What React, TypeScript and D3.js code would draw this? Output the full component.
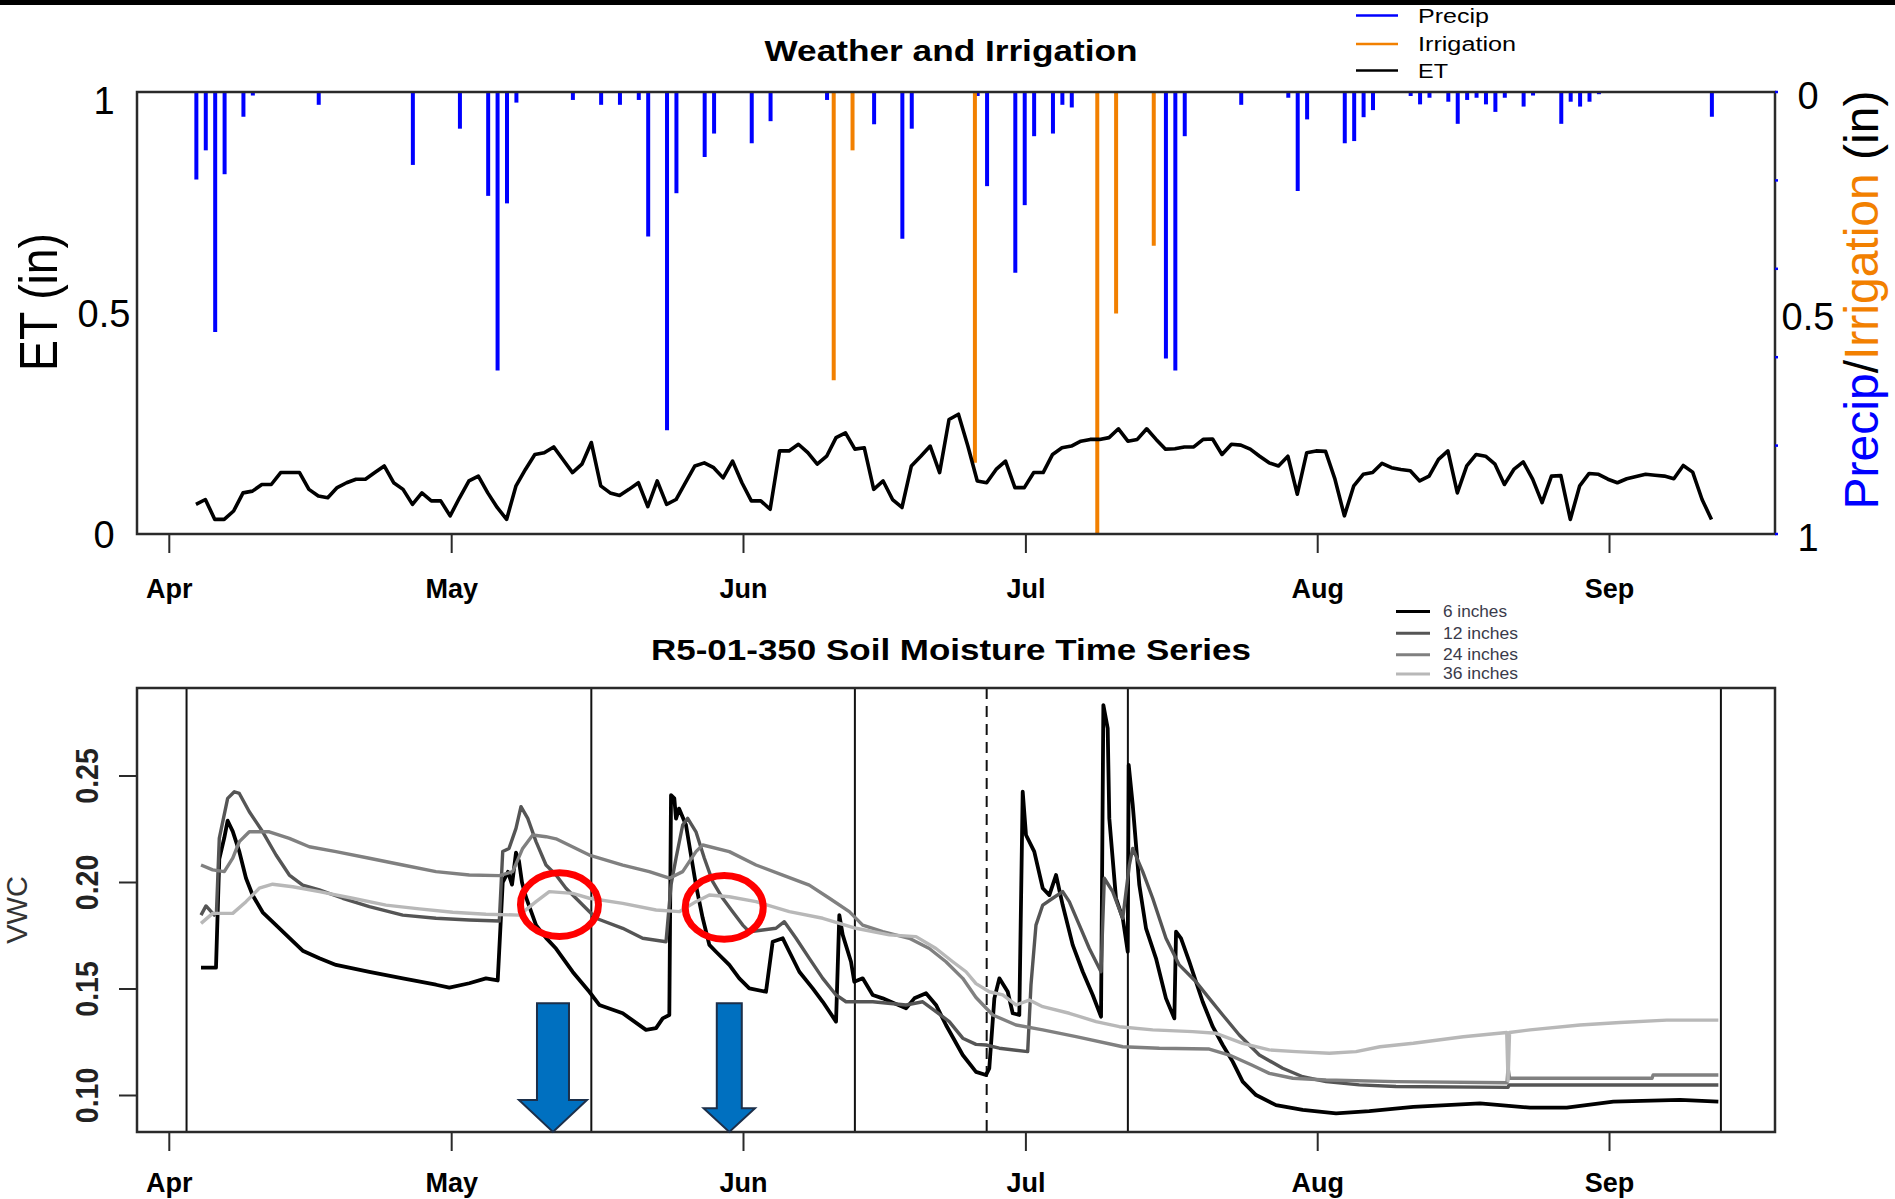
import React from "react";
import * as d3 from "d3";

// ---------------- DATA ----------------
const MONTHS = ["2015-04-01", "2015-05-01", "2015-06-01", "2015-07-01", "2015-08-01", "2015-09-01"];
const MONTH_LABELS = ["Apr", "May", "Jun", "Jul", "Aug", "Sep"];
const ET_TICKS = [0, 0.5, 1];
const PRECIP_TICKS = [0, 0.5, 1];
const PRECIP_MINOR_TICKS = [0, 0.2, 0.4, 0.6, 0.8, 1];
const VWC_TICKS = [0.1, 0.15, 0.2, 0.25];

// daily ET (in), starting 2015-04-03
const ET_START = "2015-04-03";
const ET_IN = [
  0.067, 0.078, 0.033, 0.033, 0.052, 0.093, 0.097, 0.112, 0.112, 0.139,
  0.139, 0.139, 0.101, 0.086, 0.082, 0.105, 0.116, 0.124, 0.124, 0.139,
  0.154, 0.116, 0.101, 0.067, 0.093, 0.075, 0.075, 0.041, 0.082, 0.12,
  0.131, 0.093, 0.06, 0.033, 0.109, 0.146, 0.18, 0.184, 0.197, 0.168,
  0.139, 0.158, 0.207, 0.109, 0.093, 0.087, 0.101, 0.116, 0.062, 0.12,
  0.067, 0.078, 0.116, 0.154, 0.161, 0.15, 0.127, 0.165, 0.116, 0.075,
  0.075, 0.056, 0.188, 0.188, 0.203, 0.184, 0.158, 0.176, 0.218, 0.229,
  0.192, 0.195, 0.101, 0.12, 0.078, 0.06, 0.154, 0.176, 0.199, 0.139,
  0.259, 0.271, 0.199, 0.12, 0.116, 0.146, 0.165, 0.105, 0.105, 0.139,
  0.139, 0.18, 0.195, 0.199, 0.21, 0.214, 0.214, 0.218, 0.238, 0.21,
  0.214, 0.238, 0.214, 0.192, 0.193, 0.197, 0.197, 0.214, 0.215, 0.18,
  0.203, 0.201, 0.192, 0.176, 0.161, 0.154, 0.176, 0.09, 0.184, 0.188,
  0.187, 0.124, 0.041, 0.109, 0.135, 0.139, 0.16, 0.15, 0.146, 0.143,
  0.12, 0.131, 0.169, 0.188, 0.093, 0.154, 0.18, 0.176, 0.158, 0.112,
  0.146, 0.163, 0.124, 0.071, 0.131, 0.132, 0.033, 0.109, 0.137, 0.135,
  0.124, 0.116, 0.125, 0.13, 0.135, 0.133, 0.131, 0.125, 0.155, 0.14,
  0.078, 0.033,
];

const PRECIP_IN: [string, number][] = [
  ["2015-04-03", 0.198], ["2015-04-04", 0.132], ["2015-04-05", 0.543], ["2015-04-06", 0.186],
  ["2015-04-08", 0.056], ["2015-04-09", 0.008], ["2015-04-16", 0.029], ["2015-04-26", 0.165],
  ["2015-05-01", 0.083], ["2015-05-04", 0.235], ["2015-05-05", 0.63], ["2015-05-06", 0.252],
  ["2015-05-07", 0.024], ["2015-05-13", 0.018], ["2015-05-16", 0.029], ["2015-05-18", 0.029],
  ["2015-05-20", 0.018], ["2015-05-21", 0.327], ["2015-05-23", 0.765], ["2015-05-24", 0.229],
  ["2015-05-27", 0.147], ["2015-05-28", 0.094], ["2015-06-01", 0.116], ["2015-06-03", 0.066],
  ["2015-06-09", 0.018], ["2015-06-14", 0.073], ["2015-06-17", 0.332], ["2015-06-18", 0.083],
  ["2015-06-25", 0.009], ["2015-06-26", 0.213], ["2015-06-29", 0.409], ["2015-06-30", 0.256],
  ["2015-07-01", 0.1], ["2015-07-03", 0.094], ["2015-07-04", 0.029], ["2015-07-05", 0.035],
  ["2015-07-15", 0.603], ["2015-07-16", 0.63], ["2015-07-17", 0.1], ["2015-07-23", 0.029],
  ["2015-07-28", 0.013], ["2015-07-29", 0.224], ["2015-07-30", 0.062], ["2015-08-03", 0.116],
  ["2015-08-04", 0.111], ["2015-08-05", 0.057], ["2015-08-06", 0.041], ["2015-08-10", 0.009],
  ["2015-08-11", 0.028], ["2015-08-12", 0.013], ["2015-08-14", 0.022], ["2015-08-15", 0.072],
  ["2015-08-16", 0.018], ["2015-08-17", 0.013], ["2015-08-18", 0.028], ["2015-08-19", 0.045],
  ["2015-08-20", 0.013], ["2015-08-22", 0.033], ["2015-08-23", 0.008], ["2015-08-26", 0.072],
  ["2015-08-27", 0.022], ["2015-08-28", 0.033], ["2015-08-29", 0.022], ["2015-08-30", 0.005],
  ["2015-09-11", 0.056],
];

const IRRIGATION_IN: [string, number][] = [
  ["2015-06-10", 0.652], ["2015-06-12", 0.132], ["2015-06-25", 0.839],
  ["2015-07-08", 1.05], ["2015-07-10", 0.501], ["2015-07-14", 0.348],
];

// soil moisture: [days since Apr 1, VWC]
const VWC_6IN: [number, number][] = [
  [3.37, 0.16], [4.96, 0.16], [5.31, 0.211], [5.84, 0.221], [6.2, 0.229], [6.74, 0.224], [7.44, 0.2145],
  [8.15, 0.202], [8.86, 0.194], [9.92, 0.186], [11.34, 0.18], [12.75, 0.174], [14.17, 0.168],
  [15.94, 0.1644], [17.71, 0.1613], [21.25, 0.158], [24.8, 0.155], [28.33, 0.152], [29.75, 0.1506],
  [31.87, 0.1527], [33.64, 0.155], [34.89, 0.154], [35.42, 0.2], [35.98, 0.205], [36.41, 0.199],
  [36.83, 0.214], [37.15, 0.21], [37.47, 0.2], [37.9, 0.193], [38.96, 0.18], [40.02, 0.174],
  [41.08, 0.169], [42.86, 0.158], [44.62, 0.1487], [45.68, 0.1425], [48.17, 0.1386], [50.64, 0.1308],
  [51.71, 0.1316], [52.42, 0.1362], [53.12, 0.1378], [53.3, 0.241], [53.65, 0.2395], [53.83, 0.23],
  [54.15, 0.2347], [54.89, 0.227], [55.24, 0.2176], [55.95, 0.1988], [56.67, 0.1832], [57.37, 0.1707],
  [58.08, 0.1675], [59.49, 0.1613], [60.55, 0.155], [61.62, 0.1503], [63.39, 0.1487], [64.1, 0.1722],
  [65.17, 0.1738], [65.87, 0.1675], [66.93, 0.1581], [68.35, 0.1503], [69.42, 0.144], [70.83, 0.1347],
  [71.18, 0.1847], [71.54, 0.1754], [72.42, 0.1628], [72.77, 0.1534], [73.66, 0.155], [74.73, 0.1472],
  [75.79, 0.1456], [78.27, 0.1409], [79.15, 0.1456], [80.39, 0.148], [81.45, 0.1425], [82.51, 0.1331],
  [84.29, 0.119], [85.7, 0.1111], [86.76, 0.1096], [87.11, 0.1127], [87.65, 0.1456], [88.18, 0.155],
  [89.07, 0.1487], [89.6, 0.1386], [90.3, 0.1378], [90.66, 0.2426], [91.01, 0.2223], [91.89, 0.2145],
  [92.79, 0.1973], [93.49, 0.1941], [94.2, 0.2035], [94.91, 0.1894], [95.97, 0.1707], [97.04, 0.1581],
  [98.1, 0.1472], [98.98, 0.137], [99.23, 0.2833], [99.69, 0.2724], [99.86, 0.2301], [100.57, 0.1926],
  [101.29, 0.1832], [101.82, 0.1675], [101.92, 0.2552], [102.35, 0.2364], [103.05, 0.1988],
  [103.76, 0.1785], [104.82, 0.1644], [105.88, 0.1456], [106.77, 0.1362], [106.95, 0.1769],
  [107.48, 0.1738], [108.36, 0.1628], [109.07, 0.1534], [109.78, 0.144], [110.85, 0.1323],
  [111.91, 0.1237], [112.97, 0.1159], [114.03, 0.1065], [115.45, 0.1002], [117.57, 0.0955],
  [120.41, 0.0932], [123.95, 0.0916], [127.48, 0.0927], [132.16, 0.0947], [139.24, 0.0963],
  [144.56, 0.0943], [148.46, 0.0943], [153.41, 0.0971], [160.49, 0.0979], [164.56, 0.0971],
];

const VWC_12IN: [number, number][] = [
  [3.37, 0.1847], [3.9, 0.189], [4.78, 0.1847], [5.01, 0.186], [5.31, 0.2207], [6.2, 0.2395],
  [6.91, 0.2426], [7.44, 0.2418], [8.5, 0.2332], [9.92, 0.2238], [11.34, 0.2129], [12.75, 0.2035],
  [14.17, 0.1988], [15.94, 0.1965], [18.42, 0.1926], [21.25, 0.1887], [24.8, 0.1847], [28.33, 0.1832],
  [31.87, 0.1824], [35.06, 0.1819], [35.42, 0.2145], [36.09, 0.216], [36.83, 0.2254], [37.36, 0.2356],
  [38.08, 0.2301], [38.96, 0.2192], [40.02, 0.2082], [41.08, 0.2035], [42.14, 0.1973], [43.92, 0.1894],
  [45.33, 0.1832], [48.17, 0.1785], [50.29, 0.1738], [52.77, 0.1722], [53.3, 0.1988], [53.83, 0.2114],
  [54.54, 0.227], [55.07, 0.2301], [55.95, 0.2238], [56.84, 0.2114], [57.73, 0.2004], [58.79, 0.1926],
  [59.85, 0.1863], [60.92, 0.18], [61.62, 0.1769], [63.04, 0.1777], [64.45, 0.1785], [65.34, 0.1816],
  [66.58, 0.1738], [67.99, 0.1644], [69.42, 0.155], [70.83, 0.1472], [71.89, 0.144], [74.73, 0.144],
  [78.27, 0.1425], [80.04, 0.144], [81.45, 0.1394], [82.86, 0.1347], [84.29, 0.1269], [85.7, 0.124],
  [86.76, 0.1237], [88.18, 0.1222], [91.19, 0.1206], [91.54, 0.1519], [92.07, 0.18], [92.79, 0.1894],
  [93.85, 0.1926], [94.91, 0.1957], [95.61, 0.191], [96.68, 0.18], [97.74, 0.169], [98.98, 0.1581],
  [99.33, 0.202], [100.22, 0.1957], [101.29, 0.1832], [101.99, 0.2082], [102.35, 0.216],
  [103.41, 0.2051], [104.47, 0.1926], [105.88, 0.1738], [107.29, 0.1613], [109.07, 0.1534],
  [110.48, 0.1456], [111.91, 0.1378], [113.67, 0.1284], [115.8, 0.119], [118.28, 0.1128],
  [120.41, 0.1088], [122.89, 0.1065], [126.42, 0.105], [130.32, 0.1042], [142.22, 0.1038],
  [142.32, 0.1049], [164.56, 0.1049],
];

const VWC_24IN: [number, number][] = [
  [3.37, 0.2082], [4.61, 0.2059], [5.84, 0.2051], [6.74, 0.2114], [7.44, 0.2192], [8.5, 0.2238],
  [10.62, 0.2238], [12.75, 0.2207], [14.87, 0.2168], [17.71, 0.2145], [21.25, 0.2114], [24.8, 0.2082],
  [28.33, 0.2051], [31.87, 0.2035], [35.06, 0.2032], [36.48, 0.2051], [37.54, 0.216], [38.61, 0.2223],
  [40.02, 0.2215], [41.08, 0.2205], [44.62, 0.2129], [48.17, 0.2082], [50.99, 0.2051], [53.12, 0.202],
  [54.54, 0.2051], [55.95, 0.2145], [56.67, 0.2176], [59.49, 0.2145], [62.33, 0.2082], [65.17, 0.2035],
  [67.99, 0.1988], [70.12, 0.1926], [72.24, 0.1863], [73.66, 0.18], [75.79, 0.1769], [78.61, 0.1738],
  [80.74, 0.169], [82.51, 0.1628], [84.29, 0.155], [85.7, 0.146], [87.48, 0.1378], [89.95, 0.1331],
  [92.79, 0.1308], [96.33, 0.1276], [101.29, 0.1229], [105.17, 0.1222], [110.48, 0.1218],
  [112.61, 0.119], [114.99, 0.1143], [116.86, 0.1104], [119.35, 0.1081], [122.89, 0.1073],
  [130.32, 0.1065], [142.11, 0.106], [142.22, 0.113], [142.38, 0.1081], [157.52, 0.1081],
  [157.63, 0.1096], [164.56, 0.1096],
];

const VWC_36IN: [number, number][] = [
  [3.37, 0.1808], [4.61, 0.1855], [6.74, 0.1855], [8.15, 0.191], [9.56, 0.1973], [10.98, 0.1992],
  [13.11, 0.198], [15.94, 0.1957], [19.48, 0.1926], [23.02, 0.1894], [26.56, 0.1876], [30.11, 0.186],
  [33.64, 0.1851], [37.18, 0.1847], [38.96, 0.191], [40.37, 0.1957], [42.86, 0.1949], [44.62, 0.1926],
  [48.17, 0.1902], [51.71, 0.1871], [54.18, 0.1863], [55.95, 0.191], [57.37, 0.1941], [59.49, 0.1933],
  [62.33, 0.191], [65.87, 0.1863], [69.42, 0.1832], [72.95, 0.1785], [76.49, 0.1754], [79.33, 0.1746],
  [81.45, 0.169], [83.23, 0.1628], [84.64, 0.1581], [85.7, 0.1525], [87.11, 0.1487], [88.54, 0.1472],
  [89.95, 0.1425], [91.36, 0.1448], [92.79, 0.1417], [95.61, 0.1386], [98.45, 0.1347], [100.93, 0.1323],
  [104.47, 0.1308], [108.72, 0.13], [111.2, 0.1292], [114.03, 0.1245], [116.86, 0.1214], [119.7, 0.1206],
  [123.23, 0.1198], [126.07, 0.1206], [128.62, 0.1229], [132.16, 0.1245], [137.47, 0.1276],
  [142.08, 0.1296], [142.22, 0.107], [142.38, 0.1296], [144.56, 0.1308], [149.87, 0.1331],
  [154.12, 0.1343], [159.08, 0.1354], [164.56, 0.1354],
];

const SOIL_SERIES = [
  { label: "6 inches", data: VWC_6IN, color: "#000000" },
  { label: "12 inches", data: VWC_12IN, color: "#555555" },
  { label: "24 inches", data: VWC_24IN, color: "#808080" },
  { label: "36 inches", data: VWC_36IN, color: "#b8b8b8" },
];

const SOLID_EVENT_DATES = ["2015-04-02", "2015-05-15", "2015-06-12", "2015-07-11", "2015-09-12"];
const DASHED_EVENT_DATES = ["2015-06-26"];

// annotations in data space: [days since Apr 1, VWC]
const ARROWS = [
  { day: 40.76, top: 0.1433, headBase: 0.0979, shaftHalf: 16, headHalf: 34 },
  { day: 59.49, top: 0.1433, headBase: 0.094, shaftHalf: 12.5, headHalf: 25.7 },
];
const CIRCLES = [
  { day: 41.45, vwc: 0.1896 },
  { day: 58.95, vwc: 0.1883 },
];

// ---------------- HELPERS ----------------
const FONT = "'Liberation Sans', Arial, Helvetica, sans-serif";
const DAY_MS = 864e5;
const SEASON_START = Date.UTC(2015, 3, 1);
const parse = d3.utcParse("%Y-%m-%d");
const dayToDate = (t: number) => new Date(SEASON_START + t * DAY_MS);
const obs = (s: string, hour: number) => d3.utcHour.offset(parse(s) as Date, hour);
const OBS_HOUR = 20;
const PRECIP_HOUR = 21;
const IRR_HOUR = 14;

export default function App() {
  const W = 1895;
  const H = 1199;
  const L = 137;
  const R = 1775;
  const T1 = 92, B1 = 534;
  const T2 = 688, B2 = 1132;

  const x = d3.scaleUtc().domain([dayToDate(-3.431), dayToDate(170.58)]).range([L, R]);
  const yET = d3.scaleLinear().domain([0, 1]).range([B1, T1]);
  const yP = d3.scaleLinear().domain([0, 1]).range([T1, B1]);
  const yV = d3.scaleLinear().domain([0.08286, 0.29131]).range([B2, T2]);

  const etStart = parse(ET_START) as Date;
  const etLine = d3
    .line<number>()
    .x((_, i) => x(d3.utcHour.offset(d3.utcDay.offset(etStart, i), OBS_HOUR)))
    .y((d) => yET(d));

  const soilLine = d3
    .line<[number, number]>()
    .x((d) => x(dayToDate(d[0])))
    .y((d) => yV(d[1]));

  const blue = "#0000ff";
  const orange = "#f28000";
  const frame = "#2a2a2a";

  return (
    <svg
      width={W}
      height={H}
      viewBox={`0 0 ${W} ${H}`}
      style={{ position: "absolute", left: 0, top: 0, display: "block", background: "#fff" }}
      fontFamily={FONT}
    >
      <defs>
        <clipPath id="clipTop">
          <rect x={L} y={T1} width={R - L} height={B1 - T1} />
        </clipPath>
        <clipPath id="clipBot">
          <rect x={L} y={T2} width={R - L} height={B2 - T2} />
        </clipPath>
      </defs>
      <rect x={0} y={0} width={W} height={H} fill="#fff" />
      <rect x={0} y={0} width={W} height={5} fill="#000" />

      {/* ---------- TOP PANEL ---------- */}
      <text x={951} y={61} textAnchor="middle" fontWeight="bold" fontSize={29} textLength={373} lengthAdjust="spacingAndGlyphs">
        Weather and Irrigation
      </text>

      {/* legend */}
      {[
        { label: "Precip", color: blue, y: 15.5, len: 71 },
        { label: "Irrigation", color: orange, y: 44, len: 98 },
        { label: "ET", color: "#000", y: 70.5, len: 30 },
      ].map((d) => (
        <g key={d.label}>
          <line x1={1356} x2={1398} y1={d.y} y2={d.y} stroke={d.color} strokeWidth={2.5} />
          <text x={1418} y={d.y + 2} dominantBaseline="middle" fontSize={20} textLength={d.len} lengthAdjust="spacingAndGlyphs">
            {d.label}
          </text>
        </g>
      ))}

      <g clipPath="url(#clipTop)">
        {PRECIP_IN.map(([d, v]) => {
          const xx = x(obs(d, PRECIP_HOUR));
          return <line key={"p" + d} x1={xx} x2={xx} y1={yP(0)} y2={yP(v)} stroke={blue} strokeWidth={4} />;
        })}
        {IRRIGATION_IN.map(([d, v]) => {
          const xx = x(obs(d, IRR_HOUR));
          return <line key={"i" + d} x1={xx} x2={xx} y1={yP(0)} y2={yP(v)} stroke={orange} strokeWidth={4} />;
        })}
        <path d={etLine(ET_IN) || ""} fill="none" stroke="#000" strokeWidth={3.6} strokeLinejoin="round" />
      </g>

      <rect x={L} y={T1} width={R - L} height={B1 - T1} fill="none" stroke={frame} strokeWidth={2.5} />

      {/* right minor ticks (blue) */}
      {PRECIP_MINOR_TICKS.map((v) => (
        <line key={"rt" + v} x1={R} x2={R + 3} y1={yP(v)} y2={yP(v)} stroke={blue} strokeWidth={2.5} />
      ))}

      {/* left labels */}
      {ET_TICKS.map((v) => (
        <text key={"lt" + v} x={104} y={yET(v) + (v === 1 ? 8 : 0)} dy="0.36em" textAnchor="middle" fontSize={38}>
          {v === 0.5 ? "0.5" : String(v)}
        </text>
      ))}
      {PRECIP_TICKS.map((v) => (
        <text key={"rl" + v} x={1808} y={yP(v) + 3} dy="0.36em" textAnchor="middle" fontSize={38}>
          {v === 0.5 ? "0.5" : String(v)}
        </text>
      ))}

      <text
        transform="translate(57,302) scale(1.15,1) rotate(-90)"
        textAnchor="middle"
        fontSize={46}
        textLength={138}
        lengthAdjust="spacingAndGlyphs"
      >
        ET (in)
      </text>
      <text transform="translate(1878,300) rotate(-90)" textAnchor="middle" fontSize={48}>
        <tspan fill={blue}>Precip</tspan>
        <tspan fill="#000">/</tspan>
        <tspan fill={orange}>Irrigation</tspan>
        <tspan fill="#000"> (in)</tspan>
      </text>

      {/* top x axis */}
      {MONTHS.map((m, i) => {
        const xx = x(parse(m) as Date);
        return (
          <g key={"tx" + m}>
            <line x1={xx} x2={xx} y1={B1} y2={B1 + 19} stroke={frame} strokeWidth={2} />
            <text x={xx} y={598} textAnchor="middle" fontWeight="bold" fontSize={27}>
              {MONTH_LABELS[i]}
            </text>
          </g>
        );
      })}

      {/* ---------- BOTTOM PANEL ---------- */}
      <text x={951} y={660} textAnchor="middle" fontWeight="bold" fontSize={30} textLength={600} lengthAdjust="spacingAndGlyphs">
        R5-01-350 Soil Moisture Time Series
      </text>

      {SOIL_SERIES.map((s, i) => {
        const yy = [611.5, 633.3, 654.7, 673.9][i];
        return (
          <g key={"lg" + s.label}>
            <line x1={1396} x2={1430} y1={yy} y2={yy} stroke={s.color} strokeWidth={3} />
            <text x={1443} y={yy + 1} dominantBaseline="middle" fontSize={16} fill="#3a3a4a" textLength={[64, 75, 75, 75][i]} lengthAdjust="spacingAndGlyphs">
              {s.label}
            </text>
          </g>
        );
      })}

      <g clipPath="url(#clipBot)">
        {SOLID_EVENT_DATES.map((d) => {
          const xx = x(obs(d, OBS_HOUR));
          return <line key={"ev" + d} x1={xx} x2={xx} y1={T2} y2={B2} stroke="#111" strokeWidth={2} />;
        })}
        {DASHED_EVENT_DATES.map((d) => {
          const xx = x(obs(d, OBS_HOUR));
          return (
            <line key={"dv" + d} x1={xx} x2={xx} y1={T2} y2={B2} stroke="#111" strokeWidth={2} strokeDasharray="11,7" />
          );
        })}
        {SOIL_SERIES.map((s, i) => (
          <path
            key={"sl" + s.label}
            d={soilLine(s.data) || ""}
            fill="none"
            stroke={s.color}
            strokeWidth={i === 0 ? 3.8 : 3.4}
            strokeLinejoin="round"
          />
        ))}
      </g>

      <rect x={L} y={T2} width={R - L} height={B2 - T2} fill="none" stroke={frame} strokeWidth={2.5} />

      {/* annotations */}
      {CIRCLES.map((c, i) => (
        <ellipse
          key={"c" + i}
          cx={x(dayToDate(c.day))}
          cy={yV(c.vwc)}
          rx={39}
          ry={31.8}
          fill="none"
          stroke="#ff0000"
          strokeWidth={7}
        />
      ))}
      {ARROWS.map((a, i) => {
        const cx = x(dayToDate(a.day));
        const yt = yV(a.top);
        const yb = yV(a.headBase);
        const tip = yV(yV.domain()[0]);
        const pts = [
          [cx - a.shaftHalf, yt],
          [cx + a.shaftHalf, yt],
          [cx + a.shaftHalf, yb],
          [cx + a.headHalf, yb],
          [cx, tip],
          [cx - a.headHalf, yb],
          [cx - a.shaftHalf, yb],
        ];
        return (
          <polygon
            key={"a" + i}
            points={pts.map((p) => p.join(",")).join(" ")}
            fill="#0070c0"
            stroke="#1c2f4a"
            strokeWidth={2}
            strokeLinejoin="miter"
          />
        );
      })}

      {/* bottom y axis */}
      {VWC_TICKS.map((v) => (
        <g key={"vy" + v}>
          <line x1={L - 18} x2={L} y1={yV(v)} y2={yV(v)} stroke={frame} strokeWidth={2} />
          <text
            transform={`translate(98,${yV(v)}) scale(1.12,1) rotate(-90)`}
            textAnchor="middle"
            fontSize={28.5}
            fontWeight="bold"
            fill="#222"
          >
            {d3.format(".2f")(v)}
          </text>
        </g>
      ))}
      <text transform="translate(27,910) rotate(-90)" textAnchor="middle" fontSize={29} fill="#333">
        VWC
      </text>

      {/* bottom x axis */}
      {MONTHS.map((m, i) => {
        const xx = x(parse(m) as Date);
        return (
          <g key={"bx" + m}>
            <line x1={xx} x2={xx} y1={B2} y2={B2 + 19} stroke={frame} strokeWidth={2} />
            <text x={xx} y={1192} textAnchor="middle" fontWeight="bold" fontSize={27}>
              {MONTH_LABELS[i]}
            </text>
          </g>
        );
      })}
    </svg>
  );
}
